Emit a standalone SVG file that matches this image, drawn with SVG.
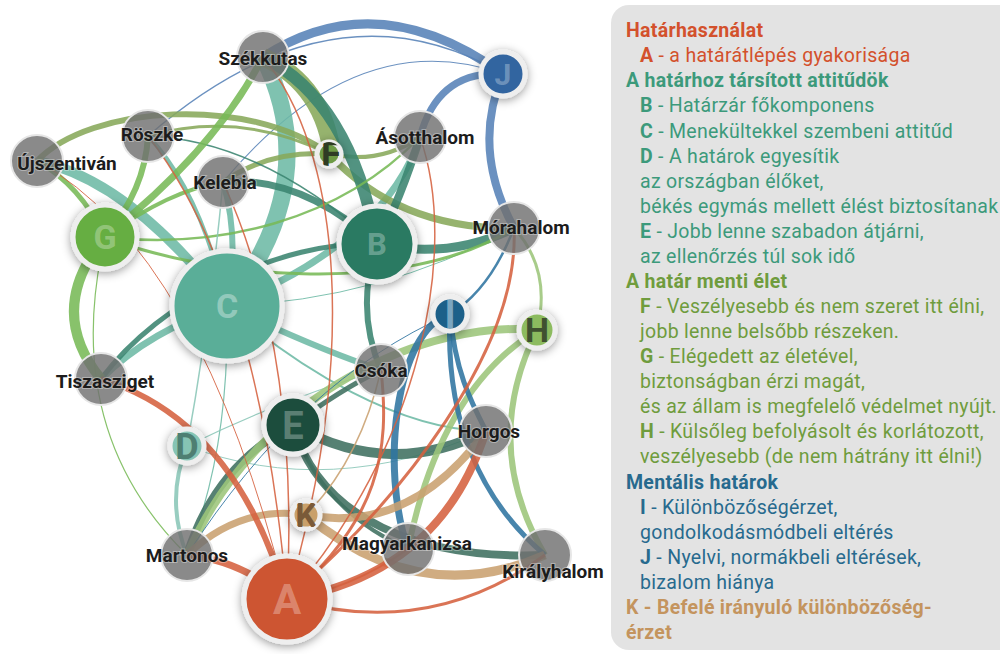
<svg xmlns="http://www.w3.org/2000/svg" width="1000" height="654" viewBox="0 0 1000 654">
<style>
.e{fill:none;stroke-linecap:butt;opacity:0.88}
.a{stroke:#d5613f}.b{stroke:#3a8470}.c{stroke:#6dbaa5}.d{stroke:#8ac6b7}.ee{stroke:#3f6f60}
.f{stroke:#88a95a}.g{stroke:#77b957}.h{stroke:#9cc57a}.i{stroke:#2f74a0}.j{stroke:#5682b7}.k{stroke:#c9a170}
.city circle{fill:#707070;fill-opacity:0.82;stroke:#e6e6e6;stroke-width:2}
.city text{font-family:Roboto,"Liberation Sans",sans-serif;font-weight:700;font-size:19px;fill:#1c1c1c;text-anchor:middle;stroke:#ffffff;stroke-opacity:0.35;stroke-width:2;paint-order:stroke}
.ln circle.n{stroke:#eeeeee;stroke-width:5;filter:url(#sh)}
.ln text{font-family:Roboto,"Liberation Sans",sans-serif;font-weight:700;text-anchor:middle}
.lg{font-family:Roboto,"Liberation Sans",sans-serif;font-size:19.5px;letter-spacing:0.3px}
.hd{font-weight:700}
.bl{font-weight:700}
</style>
<defs>
<filter id="sh" x="-60%" y="-60%" width="220%" height="220%">
<feDropShadow dx="0" dy="2" stdDeviation="5" flood-color="#000" flood-opacity="0.4"/>
</filter>
<clipPath id="cD"><circle cx="187" cy="446" r="17"/></clipPath>
<clipPath id="cF"><circle cx="329" cy="154" r="12"/></clipPath>
<clipPath id="cH"><circle cx="537" cy="330" r="18"/></clipPath>
<clipPath id="cI"><circle cx="450" cy="314" r="17"/></clipPath>
<clipPath id="cK"><circle cx="306" cy="515" r="14"/></clipPath>
</defs>
<rect width="1000" height="654" fill="#ffffff"/>

<g id="legend">
<rect x="611" y="5" width="420" height="645" rx="18" fill="#e3e3e3"/>
<text class="lg hd" x="626" y="37" fill="#d3512c">Határhasználat</text>
<text class="lg" x="640" y="62" fill="#d3512c"><tspan class="bl">A</tspan> - a határátlépés gyakorisága</text>
<text class="lg hd" x="626" y="87" fill="#3c9a7b">A határhoz társított attitűdök</text>
<text class="lg" x="640" y="112" fill="#3c9a7b"><tspan class="bl">B</tspan> - Határzár főkomponens</text>
<text class="lg" x="640" y="138" fill="#3c9a7b"><tspan class="bl">C</tspan> - Menekültekkel szembeni attitűd</text>
<text class="lg" x="640" y="163" fill="#3c9a7b"><tspan class="bl">D</tspan> - A határok egyesítik</text>
<text class="lg" x="640" y="188" fill="#3c9a7b">az országban élőket,</text>
<text class="lg" x="640" y="213" fill="#3c9a7b">békés egymás mellett élést biztosítanak</text>
<text class="lg" x="640" y="238" fill="#3c9a7b"><tspan class="bl">E</tspan> - Jobb lenne szabadon átjárni,</text>
<text class="lg" x="640" y="263" fill="#3c9a7b">az ellenőrzés túl sok idő</text>
<text class="lg hd" x="626" y="288" fill="#6f9c3d">A határ menti élet</text>
<text class="lg" x="640" y="313" fill="#6f9c3d"><tspan class="bl">F</tspan> - Veszélyesebb és nem szeret itt élni,</text>
<text class="lg" x="640" y="338" fill="#6f9c3d">jobb lenne belsőbb részeken.</text>
<text class="lg" x="640" y="363" fill="#6f9c3d"><tspan class="bl">G</tspan> - Elégedett az életével,</text>
<text class="lg" x="640" y="388" fill="#6f9c3d">biztonságban érzi magát,</text>
<text class="lg" x="640" y="413" fill="#6f9c3d">és az állam is megfelelő védelmet nyújt.</text>
<text class="lg" x="640" y="438" fill="#6f9c3d"><tspan class="bl">H</tspan> - Külsőleg befolyásolt és korlátozott,</text>
<text class="lg" x="640" y="463" fill="#6f9c3d">veszélyesebb (de nem hátrány itt élni!)</text>
<text class="lg hd" x="626" y="489" fill="#276a8e">Mentális határok</text>
<text class="lg" x="640" y="514" fill="#276a8e"><tspan class="bl">I</tspan> - Különbözőségérzet,</text>
<text class="lg" x="640" y="539" fill="#276a8e">gondolkodásmódbeli eltérés</text>
<text class="lg" x="640" y="564" fill="#276a8e"><tspan class="bl">J</tspan> - Nyelvi, normákbeli eltérések,</text>
<text class="lg" x="640" y="589" fill="#276a8e">bizalom hiánya</text>
<text class="lg hd" x="626" y="614" fill="#c4945e">K - Befelé irányuló különbözőség-</text>
<text class="lg hd" x="626" y="639" fill="#c4945e">érzet</text>
</g>

<g id="connectors">
<path class="e j" stroke-width="9" d="M263,57 Q377,-17 503,74"/>
<path class="e j" stroke-width="8" d="M514,228 Q471,149 503,74"/>
<path class="e j" stroke-width="7" d="M420,137 Q438,70 503,74"/>
<path class="e j" stroke-width="1.5" d="M148,136 Q334,-25 503,74"/>
<path class="e j" stroke-width="1.2" d="M223,182 Q357,22 503,74"/>

<path class="e c" stroke-width="17" d="M263,57 Q325,180 227,306"/>
<path class="e c" stroke-width="10" d="M37,161 Q130,180 227,306"/>
<path class="e c" stroke-width="4" d="M148,136 Q200,190 227,306"/>
<path class="e c" stroke-width="6" d="M223,182 Q240,240 227,306"/>
<path class="e c" stroke-width="7" d="M420,137 C400,200 340,260 227,306"/>
<path class="e c" stroke-width="7" d="M101,379 Q150,330 227,306"/>
<path class="e c" stroke-width="6" d="M227,306 Q320,350 381,370"/>
<path class="e c" stroke-width="2" d="M227,306 C300,370 400,430 486,431"/>
<path class="e c" stroke-width="1" d="M227,306 Q380,300 514,228"/>
<path class="e c" stroke-width="1.2" d="M227,306 Q230,450 187,555"/>

<path class="e f" stroke-width="18" d="M263,57 Q325,85 333,160"/>
<path class="e f" stroke-width="6" d="M37,161 C90,105 250,95 329,154"/>
<path class="e f" stroke-width="5" d="M223,182 Q270,150 329,154"/>
<path class="e f" stroke-width="4" d="M329,154 Q380,165 420,137"/>
<path class="e f" stroke-width="3" d="M148,136 Q240,110 329,154"/>
<path class="e f" stroke-width="7" d="M329,154 Q400,230 514,228"/>

<path class="e b" stroke-width="12" d="M263,57 Q350,100 377,244"/>
<path class="e b" stroke-width="8" d="M420,137 Q400,200 377,244"/>
<path class="e b" stroke-width="7" d="M223,182 Q300,175 377,244"/>
<path class="e b" stroke-width="9" d="M514,228 Q450,260 377,244"/>
<path class="e b" stroke-width="5" d="M101,379 C160,300 280,240 377,244"/>
<path class="e b" stroke-width="6" d="M377,244 Q355,310 381,370"/>
<path class="e b" stroke-width="1.5" d="M148,136 Q260,140 377,244"/>

<path class="e g" stroke-width="10" d="M105,237 Q45,310 101,379"/>
<path class="e g" stroke-width="6" d="M105,237 Q145,190 148,136"/>
<path class="e g" stroke-width="7" d="M105,237 Q215,150 263,57"/>
<path class="e g" stroke-width="5" d="M37,161 Q80,185 105,237"/>
<path class="e g" stroke-width="4" d="M105,237 Q170,190 223,182"/>
<path class="e g" stroke-width="2.5" d="M105,237 C220,250 340,220 420,137"/>
<path class="e g" stroke-width="3" d="M105,237 C200,275 400,300 514,228"/>
<path class="e g" stroke-width="1.2" d="M105,237 Q60,430 187,555"/>

<path class="e d" stroke-width="4" d="M187,446 Q165,500 187,555"/>
<path class="e d" stroke-width="1" d="M187,446 Q330,500 486,431"/>
<path class="e d" stroke-width="1.2" d="M187,446 Q280,400 381,370"/>
<path class="e d" stroke-width="1.5" d="M187,446 Q210,320 223,182"/>

<path class="e ee" stroke-width="8" d="M293,425 Q215,465 187,555"/>
<path class="e ee" stroke-width="10" d="M293,425 Q390,480 486,431"/>
<path class="e ee" stroke-width="8" d="M293,425 C320,520 420,560 545,555"/>
<path class="e ee" stroke-width="5" d="M293,425 Q340,390 381,370"/>
<path class="e ee" stroke-width="4" d="M293,425 Q320,510 408,549"/>

<path class="e h" stroke-width="8" d="M537,330 C430,320 260,390 187,555"/>
<path class="e h" stroke-width="3" d="M514,228 Q552,270 537,330"/>
<path class="e h" stroke-width="6" d="M537,330 Q440,390 408,549"/>
<path class="e h" stroke-width="6" d="M537,330 Q480,445 545,555"/>

<path class="e i" stroke-width="7" d="M450,314 C395,330 380,470 408,549"/>
<path class="e i" stroke-width="5" d="M450,314 C455,370 470,400 486,431"/>
<path class="e i" stroke-width="5" d="M450,314 C445,420 480,500 545,555"/>
<path class="e i" stroke-width="2.5" d="M450,314 Q490,290 514,228"/>
<path class="e i" stroke-width="1" d="M450,314 Q300,380 187,555"/>

<path class="e k" stroke-width="7" d="M187,555 Q240,505 306,515"/>
<path class="e k" stroke-width="8" d="M306,515 Q410,535 486,431"/>
<path class="e k" stroke-width="9" d="M306,515 Q420,610 545,555"/>
<path class="e k" stroke-width="1.5" d="M306,515 Q360,460 381,370"/>

<path class="e a" stroke-width="6" d="M101,379 Q235,420 287,599"/>
<path class="e a" stroke-width="7" d="M187,555 Q240,560 287,599"/>
<path class="e a" stroke-width="3" d="M287,599 Q430,640 545,555"/>
<path class="e a" stroke-width="8" d="M287,599 Q440,575 486,431"/>
<path class="e a" stroke-width="3" d="M287,599 C400,500 520,350 514,228"/>
<path class="e a" stroke-width="3" d="M381,370 C390,450 380,520 287,599"/>
<path class="e a" stroke-width="1.5" d="M148,136 Q260,280 287,599"/>
<path class="e a" stroke-width="1" d="M37,161 Q200,250 287,599"/>
<path class="e a" stroke-width="1.5" d="M223,182 Q300,350 287,599"/>
<path class="e a" stroke-width="1.5" d="M263,57 C340,150 360,350 287,599"/>
<path class="e a" stroke-width="1.5" d="M420,137 C460,250 420,450 287,599"/>
<path class="e a" stroke-width="2" d="M408,549 Q350,590 287,599"/>
</g>

<g id="cities" class="city">
<g id="n-szekkutas"><circle cx="263" cy="57" r="26"/></g>
<g id="n-roszke"><circle cx="148" cy="136" r="26"/></g>
<g id="n-ujszentivan"><circle cx="37" cy="161" r="26"/></g>
<g id="n-kelebia"><circle cx="223" cy="182" r="26"/></g>
<g id="n-asotthalom"><circle cx="420" cy="137" r="26"/></g>
<g id="n-morahalom"><circle cx="514" cy="228" r="26"/></g>
<g id="n-csoka"><circle cx="381" cy="370" r="26"/></g>
<g id="n-tiszasziget"><circle cx="101" cy="379" r="26"/></g>
<g id="n-horgos"><circle cx="486" cy="431" r="26"/></g>
<g id="n-martonos"><circle cx="187" cy="555" r="26"/></g>
<g id="n-magyarkanizsa"><circle cx="408" cy="549" r="26"/></g>
<g id="n-kiralyhalom"><circle cx="545" cy="555" r="26"/></g>
</g>

<g id="letters" class="ln">
<g id="n-A"><circle class="n" cx="287" cy="599" r="43" fill="#cd5430"/><text x="287" y="614" font-size="42" fill="#ffffff" fill-opacity="0.3">A</text></g>
<g id="n-B"><circle class="n" cx="377" cy="244" r="38" fill="#2a7a62"/><text x="377" y="255" font-size="31" fill="#ffffff" fill-opacity="0.3">B</text></g>
<g id="n-C"><circle class="n" cx="227" cy="306" r="55" fill="#5aae98"/><text x="227" y="318" font-size="34" fill="#ffffff" fill-opacity="0.35">C</text></g>
<g id="n-D"><circle class="n" cx="187" cy="446" r="17" fill="#86c4b4"/><text x="187" y="459" font-size="36" fill="#4e7f72" clip-path="url(#cD)">D</text></g>
<g id="n-E"><circle class="n" cx="293" cy="425" r="29" fill="#1a4d3d"/><text x="293" y="439" font-size="38" fill="#ffffff" fill-opacity="0.3">E</text></g>
<g id="n-F"><circle class="n" cx="329" cy="154" r="12" fill="#6e9b45"/><text x="331" y="167" font-size="36" fill="#2f3c24" clip-path="url(#cF)">F</text></g>
<g id="n-G"><circle class="n" cx="105" cy="237" r="32" fill="#66ae42"/><text x="105" y="249" font-size="34" fill="#ffffff" fill-opacity="0.3">G</text></g>
<g id="n-H"><circle class="n" cx="537" cy="330" r="18" fill="#8cbb5e"/><text x="537" y="342" font-size="34" fill="#3f5130" clip-path="url(#cH)">H</text></g>
<g id="n-I"><circle class="n" cx="450" cy="314" r="17" fill="#1f6089"/><text x="450" y="328" font-size="38" fill="#7ba6c0" clip-path="url(#cI)">I</text></g>
<g id="n-J"><circle class="n" cx="503" cy="74" r="22" fill="#3365a0"/><text x="503" y="85" font-size="30" fill="#ffffff" fill-opacity="0.3">J</text></g>
<g id="n-K"><circle class="n" cx="306" cy="515" r="14" fill="#c9a06b"/><text x="306" y="527" font-size="34" fill="#7a5a38" clip-path="url(#cK)">K</text></g>
</g>

<g id="city-labels" class="city">
<text x="263" y="65">Székkutas</text>
<text x="152" y="141">Röszke</text>
<text x="67" y="170">Újszentiván</text>
<text x="225" y="189">Kelebia</text>
<text x="425" y="144">Ásotthalom</text>
<text x="521" y="234">Mórahalom</text>
<text x="381" y="377">Csóka</text>
<text x="105" y="388">Tiszasziget</text>
<text x="489" y="438">Horgos</text>
<text x="187" y="562">Martonos</text>
<text x="407" y="550">Magyarkanizsa</text>
<text x="553" y="578">Királyhalom</text>
</g>
</svg>
